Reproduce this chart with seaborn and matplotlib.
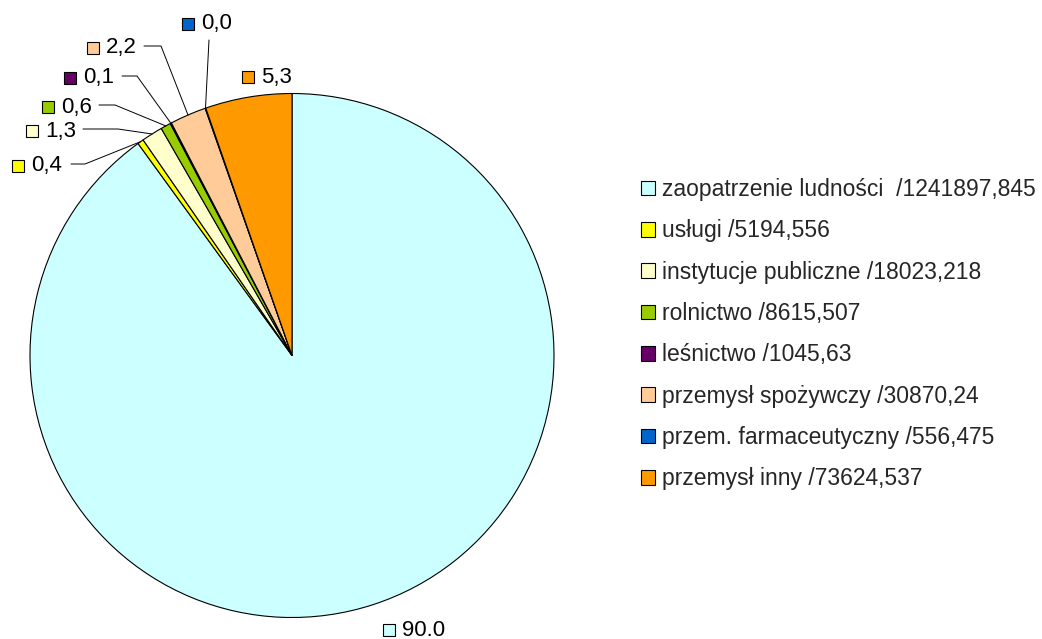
import matplotlib
matplotlib.use("Agg")
import matplotlib.pyplot as plt
from matplotlib.patches import Patch
import seaborn as sns
import numpy as np

# Water use by sector
categories = [
    "zaopatrzenie ludności ",
    "usługi",
    "instytucje publiczne",
    "rolnictwo",
    "leśnictwo",
    "przemysł spożywczy",
    "przem. farmaceutyczny",
    "przemysł inny",
]
values = [1241897.845, 5194.556, 18023.218, 8615.507, 1045.63, 30870.24, 556.475, 73624.537]
value_labels = ["1241897,845", "5194,556", "18023,218", "8615,507", "1045,63",
                "30870,24", "556,475", "73624,537"]
pct_labels = ["90.0", "0,4", "1,3", "0,6", "0,1", "2,2", "0,0", "5,3"]
colors = ["#CCFFFF", "#FFFF00", "#FFFFCC", "#99CC00", "#660066",
          "#FFCC99", "#0066CC", "#FF9900"]

sns.set_theme(style="white")
plt.rcParams["font.family"] = ["Liberation Sans", "DejaVu Sans"]

W, H = 1042, 639
CX, CY, R = 292, 355.5, 262  # pie centre and radius in pixels

fig = plt.figure(figsize=(W / 100, H / 100), dpi=100)
fig.patch.set_facecolor("white")
ax = fig.add_axes([(CX - R) / W, (H - CY - R) / H, 2 * R / W, 2 * R / H])

palette = sns.color_palette(colors)
wedges, _ = ax.pie(values, colors=palette, startangle=90, counterclock=False,
                   radius=1, wedgeprops=dict(edgecolor="black", linewidth=0.8))
ax.set_xlim(-1, 1)
ax.set_ylim(-1, 1)
ax.axis("off")


def to_data(x, y):
    return (x - CX) / R, (CY - y) / R


# label layout: (marker x, text y, leader start x, elbow x) in pixels; None = no leader
layout = [
    (389, 630, None, None),
    (18, 166, 71, 85),
    (32, 131, 83, 118),
    (48, 107, 99, 115),
    (70, 78, 122, 137),
    (93, 48, 144, 161),
    (188, 24, 209, 209),
    (248, 77, None, None),
]

FS = 16
for w, lab, col, (mx, ty, lx, ex) in zip(wedges, pct_labels, colors, layout):
    mxd, tyd = to_data(mx, ty)
    ax.plot([mxd], [tyd], marker="s", ms=8.5, mfc=col, mec="black", mew=0.8,
            clip_on=False, zorder=5)
    tx, _ = to_data(mx + 13, ty)
    ax.text(tx, tyd, lab, fontsize=FS, ha="left", va="center", color="black")
    if lx is not None:
        ang = np.deg2rad((w.theta1 + w.theta2) / 2)
        axp, ayp = np.cos(ang), np.sin(ang)
        if lx == ex:  # vertical leader below the label
            sx, sy = to_data(lx, ty + 16)
            ax.plot([sx, axp], [sy, ayp], color="black", lw=0.7, clip_on=False)
        else:
            sx, sy = to_data(lx, ty - 2)
            exd, _ = to_data(ex, ty)
            ax.plot([sx, exd, axp], [sy, sy, ayp], color="black", lw=0.7, clip_on=False)

LFS = 16.5
handles = [Patch(facecolor=c, edgecolor="black", linewidth=0.8) for c in colors]
labels = [f"{c} /{v}" for c, v in zip(categories, value_labels)]
fig.legend(handles, labels, loc="upper left", bbox_to_anchor=(641 / W, 1 - 178 / H),
           frameon=False, fontsize=LFS, handlelength=0.6, handleheight=0.6,
           handletextpad=0.3, labelspacing=0.80, borderpad=0, borderaxespad=0)

fig.savefig("out.png", dpi=100, facecolor="white")
